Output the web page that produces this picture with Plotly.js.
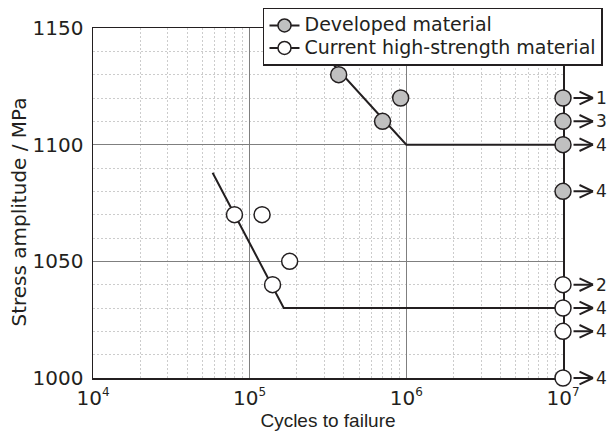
<!DOCTYPE html>
<html>
<head>
<meta charset="utf-8">
<script src="https://cdn.plot.ly/plotly-3.0.1.min.js"></script>
<style>html,body{margin:0;padding:0;background:#fff;}#chart{width:611px;height:432px;}</style>
</head>
<body>
<div id="chart"></div>
<script>
// Developed material: failed specimens
const devCycles = [3.7e5, 7.05e5, 9.2e5];
const devStress = [1130, 1110, 1120];
// Developed material: run-outs at 1e7 cycles, with specimen counts
const devRunoutStress = [1120, 1110, 1100, 1080];
const devRunoutCount = ['1', '3', '4', '4'];
// Developed material S-N curve
const devCurveCycles = [2.1e5, 1e6, 1e7];
const devCurveStress = [1150, 1100, 1100];

// Current high-strength material: failed specimens
const curCycles = [8e4, 1.2e5, 1.8e5, 1.4e5];
const curStress = [1070, 1070, 1050, 1040];
// Current material: run-outs at 1e7 cycles, with specimen counts
const curRunoutStress = [1040, 1030, 1020, 1000];
const curRunoutCount = ['2', '4', '4', '4'];
// Current material S-N curve
const curCurveCycles = [5.8e4, 1.65e5, 1e7];
const curCurveStress = [1088, 1030, 1030];

// Tick labels
const xTickVals = [1e4, 1e5, 1e6, 1e7];
const xTickText = ['10<sup><span style="font-size:12px">4</span></sup>', '10<sup><span style="font-size:12px">5</span></sup>',
                   '10<sup><span style="font-size:12px">6</span></sup>', '10<sup><span style="font-size:12px">7</span></sup>'];
const yTickVals = [1000, 1050, 1100, 1150];

const runoutCycles = 1e7;
const dark = '#231f20';
const grayFill = '#c0c0c0';

const mk = (fill) => ({symbol: 'circle', size: 16, color: fill, line: {color: dark, width: 1.5}});

const traces = [
  {x: devCurveCycles, y: devCurveStress, mode: 'lines', line: {color: dark, width: 2}, showlegend: false, cliponaxis: false, hoverinfo: 'skip'},
  {x: curCurveCycles, y: curCurveStress, mode: 'lines', line: {color: dark, width: 2}, showlegend: false, cliponaxis: false, hoverinfo: 'skip'},
  {x: devCycles, y: devStress, mode: 'markers', marker: mk(grayFill), showlegend: false, cliponaxis: false},
  {x: devRunoutStress.map(() => runoutCycles), y: devRunoutStress, mode: 'markers', marker: mk(grayFill), showlegend: false, cliponaxis: false},
  {x: curCycles, y: curStress, mode: 'markers', marker: mk('#ffffff'), showlegend: false, cliponaxis: false},
  {x: curRunoutStress.map(() => runoutCycles), y: curRunoutStress, mode: 'markers', marker: mk('#ffffff'), showlegend: false, cliponaxis: false},
  {x: [null], y: [null], mode: 'lines+markers', name: '<span style="font-size:19px">Developed material</span>',
   line: {color: dark, width: 2}, marker: {symbol: 'circle', size: 13, color: grayFill, line: {color: dark, width: 1.5}}},
  {x: [null], y: [null], mode: 'lines+markers', name: '<span style="font-size:19px">Current high-strength material</span>',
   line: {color: dark, width: 2}, marker: {symbol: 'circle', size: 13, color: '#ffffff', line: {color: dark, width: 1.5}}}
];

const annotations = [
  {xref: 'paper', yref: 'paper', x: -0.1574, y: 0.4729, text: 'Stress amplitude / MPa', textangle: -90, showarrow: false,
   xanchor: 'center', yanchor: 'middle', font: {family: 'DejaVu Sans', size: 20, color: dark}}
];
function addRunoutMarks(stresses, counts) {
  const lx = Math.log10(runoutCycles);
  stresses.forEach((s, i) => {
    // shaft and the two arms of the open arrow head, all ending at the tip
    [[-21, 0], [-15, -7], [-15, 7]].forEach(([ax, ay]) => {
      annotations.push({x: lx, y: s, xref: 'x', yref: 'y', text: '', showarrow: true, arrowhead: 0,
        arrowwidth: 2, arrowcolor: dark, ax: ax, ay: ay, xshift: 30, standoff: 0, startstandoff: 0});
    });
    // run-out specimen count
    annotations.push({x: lx, y: s, xref: 'x', yref: 'y', text: counts[i], showarrow: false,
      xanchor: 'left', yanchor: 'middle', xshift: 32, borderpad: 0,
      font: {family: 'DejaVu Sans', size: 17, color: dark}});
  });
}
addRunoutMarks(devRunoutStress, devRunoutCount);
addRunoutMarks(curRunoutStress, curRunoutCount);

const layout = {
  width: 611, height: 432,
  margin: {l: 93, r: 48, t: 28, b: 54, autoexpand: false},
  paper_bgcolor: '#ffffff', plot_bgcolor: '#ffffff',
  font: {family: 'DejaVu Sans', color: dark},
  xaxis: {
    type: 'log', range: [4, 7], tickmode: 'array', tickvals: xTickVals, ticktext: xTickText,
    showline: true, mirror: true, linecolor: dark, linewidth: 1.5,
    showgrid: true, gridcolor: '#7f7f7f', gridwidth: 1,
    minor: {dtick: 'D1', showgrid: true, gridcolor: '#cccccc', griddash: '2px,2px', gridwidth: 1},
    ticks: '', tickfont: {family: 'DejaVu Sans', size: 20, color: dark}, ticklabelstandoff: 1,
    zeroline: false, layer: 'below traces', automargin: false,
    title: {text: 'Cycles to failure', font: {family: 'Liberation Sans', size: 19, color: dark}, standoff: 5}
  },
  yaxis: {
    range: [1000, 1150], tickmode: 'array', tickvals: yTickVals,
    showline: true, mirror: true, linecolor: dark, linewidth: 1.5,
    showgrid: true, gridcolor: '#7f7f7f', gridwidth: 1,
    minor: {dtick: 10, showgrid: true, gridcolor: '#cccccc', griddash: '2px,2px', gridwidth: 1},
    ticks: '', tickfont: {family: 'DejaVu Sans', size: 20, color: dark}, ticklabelstandoff: 4,
    zeroline: false, layer: 'below traces', automargin: false
  },
  legend: {
    x: 0.3617, y: 1.058, xanchor: 'left', yanchor: 'top',
    bgcolor: '#ffffff', bordercolor: dark, borderwidth: 1.5,
    font: {family: 'DejaVu Sans', size: 15, color: dark},
    itemwidth: 30, tracegroupgap: 0
  },
  annotations: annotations,
  showlegend: true
};

Plotly.newPlot('chart', traces, layout, {displayModeBar: false, staticPlot: true});
</script>
</body>
</html>
